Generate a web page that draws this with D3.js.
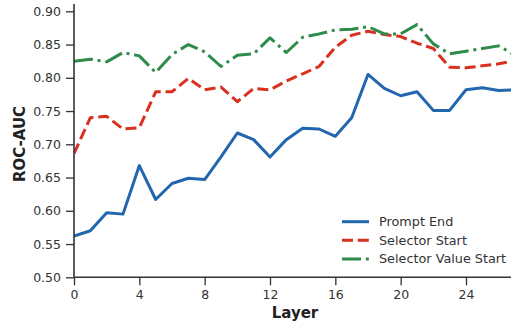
<!DOCTYPE html>
<html><head><meta charset="utf-8">
<script src="https://cdn.jsdelivr.net/npm/d3@7"></script>
<style>body{margin:0;background:#fff}svg{display:block}</style>
</head><body>
<svg id="c" width="511" height="322"></svg>
<script>
const layers = d3.range(0, 28);
const promptEnd = [0.562,0.570,0.597,0.595,0.668,0.617,0.641,0.649,0.647,0.681,0.717,0.707,0.681,0.707,0.724,0.723,0.712,0.740,0.805,0.784,0.773,0.779,0.751,0.751,0.782,0.785,0.781,0.782];
const selectorStart = [0.686,0.740,0.742,0.723,0.725,0.779,0.779,0.799,0.782,0.786,0.764,0.784,0.782,0.795,0.806,0.817,0.846,0.864,0.870,0.865,0.862,0.852,0.844,0.816,0.815,0.818,0.821,0.826];
const selectorValueStart = [0.825,0.828,0.824,0.838,0.833,0.808,0.835,0.850,0.839,0.817,0.834,0.836,0.860,0.838,0.861,0.866,0.872,0.873,0.877,0.866,0.866,0.880,0.851,0.836,0.840,0.844,0.848,0.834];
const seriesNames = ["Prompt End","Selector Start","Selector Value Start"];
const xTicks = [0,4,8,12,16,20,24];
const yTicks = [0.50,0.55,0.60,0.65,0.70,0.75,0.80,0.85,0.90];

const colors = ["#2266ae","#d9301f","#2e8b4a"];
const dashes = [null,"11,4.8","19,4.8,3,4.8"];
const svg = d3.select("#c");
const x = d3.scaleLinear().domain([0,27]).range([74,515]);
const y = d3.scaleLinear().domain([0.5,0.9]).range([277.3,11.3]);
const axisColor = "#333";
const font = "DejaVu Sans, sans-serif";

const plot = svg.append("g");
svg.append("clipPath").attr("id","cp").append("rect")
  .attr("x",74).attr("y",0).attr("width",437).attr("height",277.3);
const data = [promptEnd, selectorStart, selectorValueStart];
const line = d3.line().x((d,i)=>x(layers[i])).y(d=>y(d));
data.forEach((s,k)=>{
  plot.append("path").attr("d",line(s)).attr("fill","none")
    .attr("stroke",colors[k]).attr("stroke-width",3)
    .attr("stroke-dasharray",dashes[k]).attr("stroke-linejoin","round")
    .attr("clip-path","url(#cp)");
});

const xAxis = svg.append("g").attr("transform","translate(0,277.3)")
  .call(d3.axisBottom(x).tickValues(xTicks).tickFormat(d3.format("d")).tickSize(8).tickPadding(5).tickSizeOuter(0));
const yAxis = svg.append("g").attr("transform","translate(74,0)")
  .call(d3.axisLeft(y).tickValues(yTicks).tickFormat(d3.format(".2f")).tickSize(8).tickPadding(5).tickSizeOuter(0));
[xAxis,yAxis].forEach(a=>{
  a.select(".domain").attr("stroke",axisColor).attr("stroke-width",1.6);
  a.selectAll(".tick line").attr("stroke",axisColor).attr("stroke-width",1.3);
  a.selectAll(".tick text").attr("fill",axisColor).attr("font-size",12.5).attr("font-family",font);
});
yAxis.select(".domain").attr("d","M0,277.3V4");
xAxis.select(".domain").attr("d","M74,0H511");

svg.append("text").attr("x",295).attr("y",318.3).attr("text-anchor","middle")
  .attr("font-family",font).attr("font-weight","bold").attr("font-size",15).attr("fill","#222").text("Layer");
svg.append("text").attr("transform","translate(25,144) rotate(-90)").attr("text-anchor","middle")
  .attr("font-family",font).attr("font-weight","bold").attr("font-size",15).attr("fill","#222").text("ROC-AUC");

const leg = svg.append("g");
seriesNames.forEach((n,k)=>{
  const yy = 221.7 + k*18.6;
  leg.append("line").attr("x1",342).attr("x2",369).attr("y1",yy).attr("y2",yy)
    .attr("stroke",colors[k]).attr("stroke-width",3).attr("stroke-dasharray",dashes[k]);
  leg.append("text").attr("x",379).attr("y",yy+4.5).attr("font-family",font).attr("font-size",12.8)
    .attr("fill",axisColor).text(n);
});
</script>
</body></html>
